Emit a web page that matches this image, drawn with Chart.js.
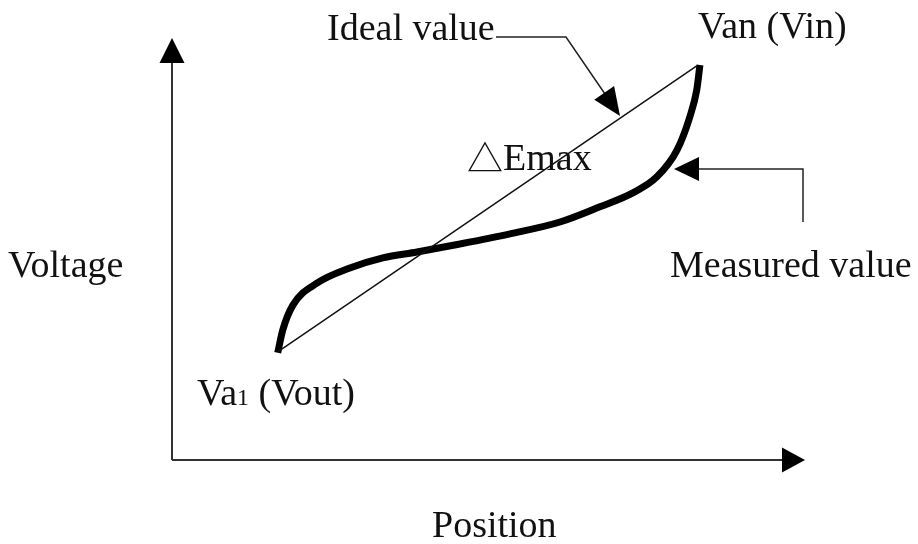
<!DOCTYPE html>
<html>
<head>
<meta charset="utf-8">
<script src="https://cdn.jsdelivr.net/npm/chart.js@4.4.1/dist/chart.umd.min.js"></script>
<style>
  html, body { margin: 0; padding: 0; background: #fff; }
  #wrap { width: 918px; height: 544px; }
</style>
</head>
<body>
<div id="wrap"><canvas id="diagram" width="918" height="544"></canvas></div>
<script>
// position / voltage in arbitrary units, origin at the axes corner
const measuredX = [1.67, 1.75, 1.91, 2.29, 2.81, 3.33, 3.87, 4.55, 5.34, 6.13, 6.76, 7.28, 7.66, 7.98, 8.18, 8.29, 8.34];
const measuredY = [2.54, 3.08, 3.67, 4.19, 4.55, 4.79, 4.93, 5.12, 5.36, 5.64, 6.00, 6.33, 6.71, 7.35, 8.13, 8.77, 9.36];
const idealX = [1.67, 8.29];
const idealY = [2.56, 9.34];

const toPoints = (xs, ys) => xs.map((x, i) => ({ x: x, y: ys[i] }));

const FONT = '38px "Liberation Serif", "Times New Roman", "DejaVu Serif", serif';

function arrowHead(ctx, tipX, tipY, fromX, fromY, len, half) {
    const a = Math.atan2(tipY - fromY, tipX - fromX);
    const bx = tipX - Math.cos(a) * len;
    const by = tipY - Math.sin(a) * len;
    ctx.beginPath();
    ctx.moveTo(tipX, tipY);
    ctx.lineTo(bx + Math.sin(a) * half, by - Math.cos(a) * half);
    ctx.lineTo(bx - Math.sin(a) * half, by + Math.cos(a) * half);
    ctx.closePath();
    ctx.fill();
}

const sketchPlugin = {
    id: 'sketch',
    afterDraw(chart) {
        const ctx = chart.ctx;
        const xs = chart.scales.x;
        const ys = chart.scales.y;
        const ox = xs.getPixelForValue(0);
        const oy = ys.getPixelForValue(0);
        const xEnd = xs.getPixelForValue(10);
        const yEnd = ys.getPixelForValue(10);

        ctx.save();
        // axes
        ctx.strokeStyle = '#333';
        ctx.fillStyle = '#000';
        ctx.lineWidth = 2;
        ctx.beginPath();
        ctx.moveTo(ox, oy);
        ctx.lineTo(ox, yEnd + 20);
        ctx.moveTo(ox, oy);
        ctx.lineTo(xEnd - 20, oy);
        ctx.stroke();
        arrowHead(ctx, ox, yEnd, ox, oy, 25, 12.5);
        arrowHead(ctx, xEnd, oy, ox, oy, 23, 12.5);

        // "Ideal value" pointer
        ctx.strokeStyle = '#222';
        ctx.lineWidth = 1.5;
        ctx.beginPath();
        ctx.moveTo(496, 37);
        ctx.lineTo(566, 37);
        ctx.lineTo(605, 94);
        ctx.stroke();
        arrowHead(ctx, 620, 116, 566, 37, 28, 12);

        // "Measured value" pointer
        ctx.beginPath();
        ctx.moveTo(803, 222);
        ctx.lineTo(803, 169);
        ctx.lineTo(697, 169);
        ctx.stroke();
        arrowHead(ctx, 674, 169, 803, 169, 25, 12);

        // labels
        ctx.fillStyle = '#111';
        ctx.font = FONT;
        ctx.textBaseline = 'alphabetic';
        ctx.textAlign = 'left';
        ctx.fillText('Ideal value', 327, 40);
        ctx.fillText('Van (Vin)', 698, 38);
        ctx.fillText('Voltage', 8, 277);
        ctx.fillText('Measured value', 670, 277);
        ctx.fillText('Position', 432, 537);

        // delta E max
        ctx.font = '36px "Noto Sans CJK SC", "DejaVu Sans", sans-serif';
        ctx.fillText('\u25B3', 467, 172);
        ctx.font = FONT;
        ctx.fillText('Emax', 503, 170);

        // Va1 (Vout) with small subscript-like 1
        let x = 197;
        ctx.fillText('Va', x, 405);
        x += ctx.measureText('Va').width;
        ctx.font = '24px "Liberation Serif", serif';
        ctx.fillText('1', x, 405);
        x += ctx.measureText('1').width;
        ctx.font = FONT;
        ctx.fillText(' (Vout)', x, 405);
        ctx.restore();
    }
};

new Chart(document.getElementById('diagram'), {
    type: 'line',
    data: {
        datasets: [{
            label: 'Ideal value',
            data: toPoints(idealX, idealY),
            borderColor: '#111',
            borderWidth: 1.5,
            pointRadius: 0,
            tension: 0,
            fill: false
        }, {
            label: 'Measured value',
            data: toPoints(measuredX, measuredY),
            borderColor: '#000',
            borderWidth: 7,
            pointRadius: 0,
            cubicInterpolationMode: 'monotone',
            borderCapStyle: 'butt',
            fill: false
        }]
    },
    options: {
        responsive: false,
        animation: false,
        devicePixelRatio: 1,
        layout: { padding: { left: 172, right: 113, top: 38, bottom: 84 } },
        scales: {
            x: { type: 'linear', min: 0, max: 10, display: false },
            y: { type: 'linear', min: 0, max: 10, display: false }
        },
        plugins: {
            legend: { display: false },
            tooltip: { enabled: false }
        },
        elements: { line: { borderJoinStyle: 'round' } }
    },
    plugins: [sketchPlugin]
});
</script>
</body>
</html>
